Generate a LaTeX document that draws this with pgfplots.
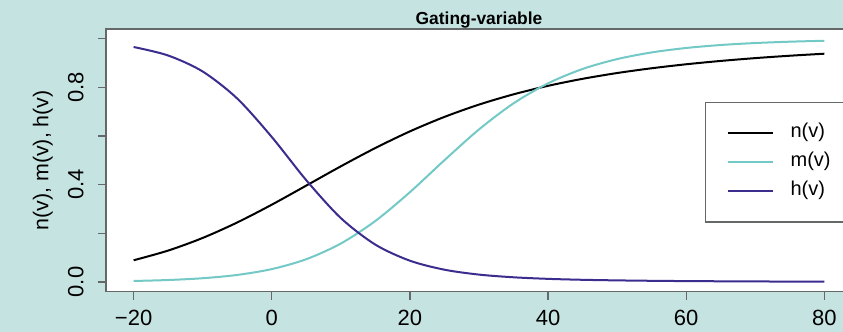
\documentclass[border=0pt]{standalone}
\usepackage{fontspec}
\setmainfont{Liberation Sans}
\usepackage{pgfplots}
\usepackage{pgfplotstable}
\pgfplotsset{compat=1.18}
\definecolor{bgcol}{RGB}{197,228,225}
\definecolor{mcol}{RGB}{115,201,198}
\definecolor{hcol}{RGB}{58,45,142}
\definecolor{framegray}{RGB}{100,104,104}
\pgfplotstableread{
v n m h
-20 0.0892 0.0041 0.9660
-15 0.1291 0.0080 0.9310
-10 0.1810 0.0154 0.8652
-5 0.2446 0.0289 0.7541
0 0.3177 0.0529 0.5961
5 0.3963 0.0936 0.4182
10 0.4755 0.1581 0.2626
15 0.5508 0.2508 0.1534
20 0.6191 0.3692 0.0874
25 0.6786 0.5006 0.0504
30 0.7292 0.6271 0.0303
35 0.7714 0.7344 0.0192
40 0.8064 0.8167 0.0128
45 0.8352 0.8757 0.0089
50 0.8590 0.9163 0.0065
55 0.8786 0.9437 0.0048
60 0.8950 0.9620 0.0036
65 0.9087 0.9742 0.0028
70 0.9203 0.9823 0.0021
75 0.9301 0.9878 0.0017
80 0.9384 0.9916 0.0013
}\gating
\begin{document}
\begin{tikzpicture}
\useasboundingbox (0,0) rectangle (421.5pt,166pt);
\fill[bgcol] (0,0) rectangle (421.5pt,166pt);
\clip (0,0) rectangle (421.5pt,166pt);
\begin{axis}[
  at={(53pt,20.15pt)}, anchor=south west,
  scale only axis, width=373pt, height=131.35pt,
  xmin=-24, xmax=84, ymin=-0.04, ymax=1.04,
  axis background/.style={fill=white},
  axis line style={draw=framegray, line width=0.6pt},
  xtick={-20,0,20,40,60,80},
  xticklabels={−20,0,20,40,60,80},
  ytick={0,0.2,0.4,0.6,0.8,1.0},
  yticklabels={0.0,{},0.4,{},0.8,{}},
  xtick pos=bottom, ytick pos=left,
  tick align=outside, major tick length=4.15pt,
  tick style={draw=framegray, line width=0.6pt},
  xticklabel style={font=\fontsize{11}{13}\selectfont, anchor=base, inner sep=0pt, yshift=-13pt},
  yticklabel style={font=\fontsize{11}{13}\selectfont, xshift=-7.2pt, rotate=90, anchor=base, inner sep=0pt},
  ylabel={n(v), m(v), h(v)},
  ylabel style={at={(axis description cs:-0.0845,0.5)}, anchor=center, font=\fontsize{10.7}{13}\selectfont},
  title={Gating-variable},
  title style={at={(axis description cs:0.5,1)}, anchor=base, yshift=-4pt, inner sep=0pt, font=\bfseries\fontsize{8.7}{10}\selectfont},
  legend cell align=left,
  legend image code/.code={\draw[#1] (0pt,0pt) -- (22.5pt,0pt);},
  legend style={at={(0.803,0.722)}, anchor=north west, draw=framegray, line width=0.6pt, fill=white,
    inner xsep=10.5pt, inner ysep=10.6pt, row sep=5pt,
    font=\fontsize{10}{12}\selectfont,
    nodes={inner sep=0pt, text height=7pt, text depth=2.5pt},
    /tikz/every odd column/.append style={column sep=8.5pt}},
]
\addplot[black, line width=1pt, smooth] table[x=v, y=n] {\gating};
\addlegendentry{n(v)}
\addplot[mcol, line width=1pt, smooth] table[x=v, y=m] {\gating};
\addlegendentry{m(v)}
\addplot[hcol, line width=1pt, smooth] table[x=v, y=h] {\gating};
\addlegendentry{h(v)}
\end{axis}
\end{tikzpicture}
\end{document}
